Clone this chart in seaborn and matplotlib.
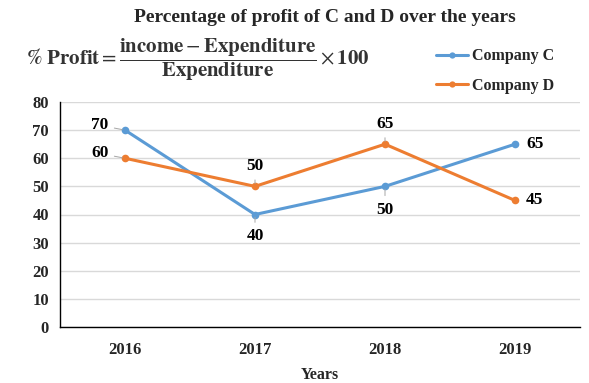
import pandas as pd
import matplotlib.pyplot as plt
import seaborn as sns
from matplotlib.lines import Line2D

# Data
years = ["2016", "2017", "2018", "2019"]
company_c = [70, 40, 50, 65]
company_d = [60, 50, 65, 45]

df = pd.DataFrame({
    "Years": years * 2,
    "Profit": company_c + company_d,
    "Company": ["Company C"] * 4 + ["Company D"] * 4,
})

sns.set_style("white")
plt.rcParams['font.family'] = ['Liberation Serif', 'DejaVu Serif']
plt.rcParams['mathtext.fontset'] = 'stix'

fig = plt.figure(figsize=(5.89, 3.83), dpi=100)
ax = fig.add_axes([60/589, 1-327/383, 520/589, 225/383])

palette = {"Company C": "#5B9BD5", "Company D": "#ED7D31"}
sns.lineplot(data=df, x="Years", y="Profit", hue="Company", palette=palette,
             marker="o", markersize=5.5, markeredgewidth=0, linewidth=2.2,
             ax=ax, legend=False)

ax.set_xlim(-0.5, 3.5)
ax.set_ylim(0, 80)
ax.set_yticks(range(0, 81, 10))
ax.yaxis.grid(True, color="#d9d9d9", linewidth=1)
ax.set_axisbelow(True)
for s in ["top", "right"]:
    ax.spines[s].set_visible(False)
for s in ["left", "bottom"]:
    ax.spines[s].set_color("black")
    ax.spines[s].set_linewidth(1)
ax.tick_params(axis="y", length=0, labelsize=12, pad=8)
ax.tick_params(axis="x", length=0, labelsize=12, pad=11)
for lab in ax.get_xticklabels() + ax.get_yticklabels():
    lab.set_fontweight("bold")
ax.set_ylabel("")
ax.set_xlabel("Years", fontsize=11.5, fontweight="bold", labelpad=6)

# Data labels
lead = dict(arrowstyle="-", color="#a6a6a6", lw=0.7)
lbl = dict(fontsize=12.5, fontweight="bold", color="black")
ax.annotate(str(company_c[0]), (0, company_c[0]), xytext=(-12, 3.5), textcoords="offset points",
            ha="right", va="center", arrowprops=lead, **lbl)
ax.annotate(str(company_d[0]), (0, company_d[0]), xytext=(-12, 3.5), textcoords="offset points",
            ha="right", va="center", arrowprops=lead, **lbl)
ax.annotate(str(company_d[1]), (1, company_d[1]), xytext=(0, 9), textcoords="offset points",
            ha="center", va="bottom", arrowprops=lead, **lbl)
ax.annotate(str(company_c[1]), (1, company_c[1]), xytext=(0, -10), textcoords="offset points",
            ha="center", va="top", arrowprops=lead, **lbl)
ax.annotate(str(company_d[2]), (2, company_d[2]), xytext=(0, 9), textcoords="offset points",
            ha="center", va="bottom", arrowprops=lead, **lbl)
ax.annotate(str(company_c[2]), (2, company_c[2]), xytext=(0, -11), textcoords="offset points",
            ha="center", va="top", arrowprops=lead, **lbl)
ax.annotate(str(company_c[3]), (3, company_c[3]), xytext=(8, 0), textcoords="offset points",
            ha="left", va="center", **lbl)
ax.annotate(str(company_d[3]), (3, company_d[3]), xytext=(8, 0), textcoords="offset points",
            ha="left", va="center", **lbl)

# Title and formula
fig.text(325/589, 1-17/383, "Percentage of profit of C and D over the years",
         ha="center", va="center", fontsize=14, fontweight="bold")
fig.text(26/589, 1-60/383,
         r"$\mathbf{\%\ Profit} = \dfrac{\mathbf{income} - \mathbf{Expenditure}}{\mathbf{Expenditure}}"
         r" \times \mathbf{100}$",
         ha="left", va="center", fontsize=15, color="#333333")

# Legend
handles = [Line2D([], [], color=palette[k], marker="o", markersize=4.5, markeredgewidth=0, lw=2.2)
           for k in ["Company C", "Company D"]]
leg = fig.legend(handles, ["Company C", "Company D"], loc="upper left",
                 bbox_to_anchor=(422/589, 1-34/383), frameon=False,
                 prop={"weight": "bold", "size": 11.5}, handlelength=2.0,
                 handletextpad=0.2, labelspacing=0.85)

fig.savefig("out.png", dpi=100)
